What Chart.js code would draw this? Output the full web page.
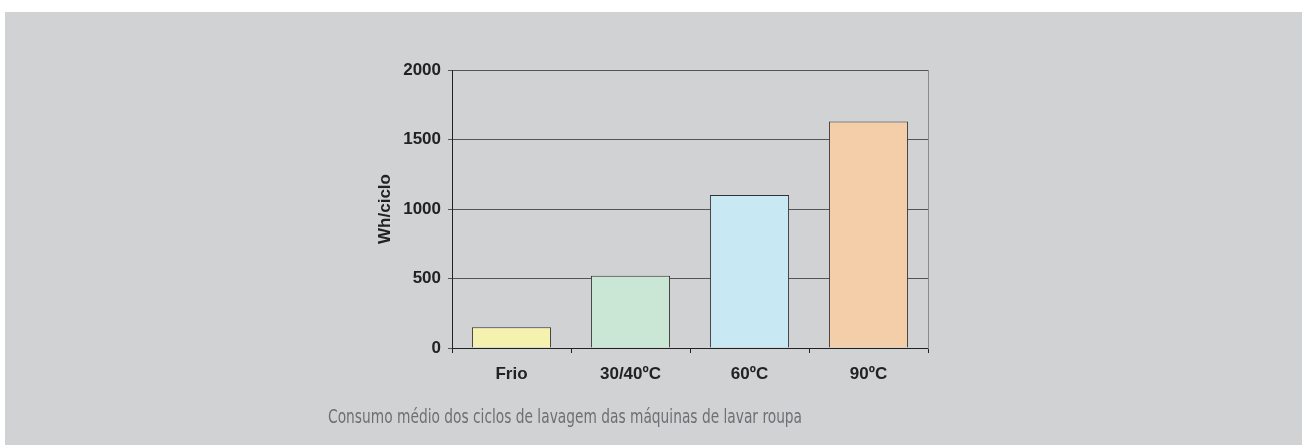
<!DOCTYPE html>
<html>
<head>
<meta charset="utf-8">
<script src="https://cdn.jsdelivr.net/npm/chart.js@4/dist/chart.umd.min.js"></script>
<style>
  html, body { margin: 0; padding: 0; background: #fff; }
  body { width: 1302px; height: 445px; position: relative; overflow: hidden; }
  .panel { position: absolute; left: 5px; top: 12px; right: 0; bottom: 0; background: #d1d2d4; }
  #chart { position: absolute; left: 0; top: 0; }
  .caption {
    position: absolute; left: 0; width: 1130px; top: 405px;
    text-align: center; color: #6e6f72;
    font-family: "Liberation Sans Narrow", "DejaVu Sans Condensed", sans-serif;
    font-size: 19px; line-height: 23px;
  }
  .caption span { display: inline-block; transform-origin: center; }
</style>
</head>
<body>
<div class="panel"></div>
<canvas id="chart" width="1302" height="445"></canvas>
<div class="caption"><span id="cap">Consumo médio dos ciclos de lavagem das máquinas de lavar roupa</span></div>
<script>
// --- DATA ---
const categories = ['Frio', '30/40ºC', '60ºC', '90ºC'];
const consumo = [150, 520, 1100, 1630];
const barColors = ['#f5f1ae', '#cae6d5', '#c8e8f4', '#f4cea8'];
const yTicks = [0, 500, 1000, 1500, 2000];

// squeeze caption to the narrow width of the original
const cap = document.getElementById('cap');
cap.style.transform = `scaleX(${474 / cap.getBoundingClientRect().width})`;

const tickFont = { family: 'Arial, "Liberation Sans", sans-serif', size: 17, weight: 'bold' };

new Chart(document.getElementById('chart'), {
  type: 'bar',
  data: {
    labels: categories,
    datasets: [{
      data: consumo,
      backgroundColor: barColors,
      borderColor: '#333',
      borderWidth: 1,
      barPercentage: 0.665,
      categoryPercentage: 1
    }]
  },
  options: {
    responsive: false,
    animation: false,
    layout: { padding: { left: 360, top: 70, right: 374, bottom: 57 } },
    plugins: { legend: { display: false }, tooltip: { enabled: false } },
    scales: {
      x: {
        grid: { drawOnChartArea: false, drawTicks: true, tickLength: 5, color: '#222' },
        border: { color: '#222', width: 1 },
        ticks: { color: '#222', font: tickFont, padding: 11 },
        afterFit: s => { s.height = 40; }
      },
      y: {
        min: 0, max: 2000,
        afterBuildTicks: s => { s.ticks = yTicks.map(v => ({ value: v })); },
        grid: { color: '#555', tickLength: 4, drawTicks: true },
        border: { color: '#222', width: 1 },
        ticks: { color: '#222', font: tickFont, padding: 7, callback: v => String(v) },
        title: { display: true, text: 'Wh/ciclo', color: '#222', font: tickFont, padding: { top: 15, bottom: 0 } },
        afterFit: s => { s.width = 92; }
      },
      yRight: {
        position: 'right',
        min: 0, max: 2000,
        grid: { drawOnChartArea: false, drawTicks: false },
        border: { color: '#8a8a8a', width: 1 },
        ticks: { display: false },
        afterFit: s => { s.width = 0; }
      }
    }
  }
});
</script>
</body>
</html>
